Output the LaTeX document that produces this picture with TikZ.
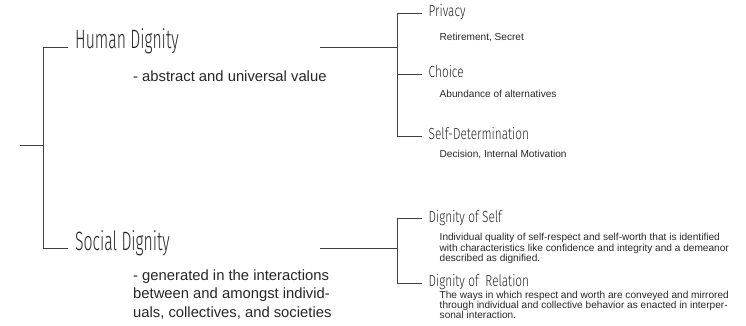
\documentclass[tikz,border=0pt]{standalone}
\usepackage{fontspec}
\setmainfont{Liberation Sans}
\newfontfamily\condfont[FakeStretch=0.74,UprightFont={* Light}]{Fira Sans}
\newfontfamily\bigcondfont[FakeStretch=0.595,UprightFont={* Light}]{Fira Sans}
\usetikzlibrary{positioning}

\begin{document}
\begin{tikzpicture}[x=1pt,y=-1pt,
every node/.style={inner sep=0pt,text=black!85},
bigtitle/.style={font=\bigcondfont\fontsize{26.5}{26.5}\selectfont,anchor=west,inner xsep=7pt,text height=0.55em,text depth=0.25em},
subtitle/.style={font=\condfont\fontsize{16}{16}\selectfont,anchor=west,inner xsep=6.5pt,text height=0.7em,text depth=0em},
bignote/.style={font=\fontsize{14.8}{18.8}\selectfont,anchor=north west,align=left},
smallnote/.style={font=\fontsize{10.1}{10.3}\selectfont,anchor=north west,align=left},
link/.style={draw=black!75,line width=0.9pt}]
\useasboundingbox (0,0) rectangle (746,326);
\coordinate (R) at (20,145);
\coordinate (J) at (43.5,145);
\node[bigtitle] (HD) at (68,47) {Human Dignity};
\node[bigtitle] (SD) at (68,248.5) {Social Dignity};
\node[bignote] (HDn) at (133,70.9) {- abstract and universal value};
\node[bignote] (SDn) at (133,269.2) {- generated in the interactions\\between and amongst individ-\\uals, collectives, and societies};
\coordinate (HDo) at (320,47);
\coordinate (HJ) at (397.5,47);
\coordinate (SDo) at (320,248.5);
\coordinate (SJ) at (397.5,248.5);
\node[subtitle] (P1) at (422,13.5) {Privacy};
\node[subtitle] (P2) at (422,74.5) {Choice};
\node[subtitle] (P3) at (422,136) {Self-Determination};
\node[subtitle] (S1) at (422,218.5) {Dignity of Self};
\node[subtitle] (S2) at (422,283) {Dignity of\ \ Relation};
\node[smallnote] (P1n) at (439.5,32.9) {Retirement, Secret};
\node[smallnote] (P2n) at (439.5,89.7) {Abundance of alternatives};
\node[smallnote] (P3n) at (439.5,150) {Decision, Internal Motivation};
\node[smallnote] (S1n) at (439.5,233.4) {Individual quality of self-respect and self-worth that is identified\\with characteristics like confidence and integrity and a demeanor\\described as dignified.};
\node[smallnote] (S2n) at (439.5,290.7) {The ways in which respect and worth are conveyed and mirrored\\through individual and collective behavior as enacted in interper-\\sonal interaction.};
\draw[link] (R)--(J);
\draw[link] (J)|-(HD.west);
\draw[link] (J)|-(SD.west);
\draw[link] (HDo)--(HJ);
\draw[link] (HJ)|-(P1.west);
\draw[link] (HJ)|-(P2.west);
\draw[link] (HJ)|-(P3.west);
\draw[link] (SDo)--(SJ);
\draw[link] (SJ)|-(S1.west);
\draw[link] (SJ)|-(S2.west);
\end{tikzpicture}
\end{document}
